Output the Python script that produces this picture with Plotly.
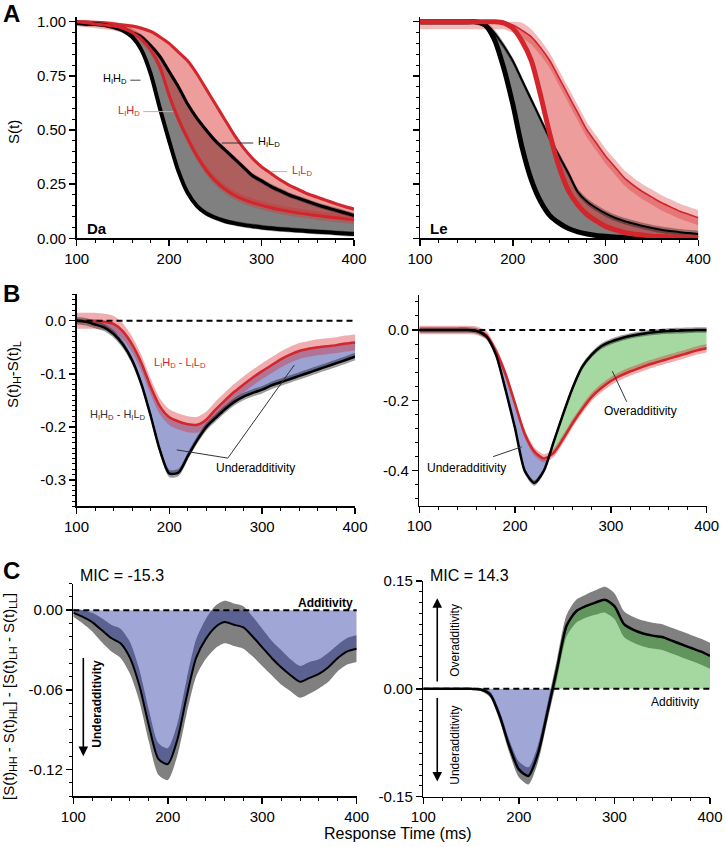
import numpy as np
import plotly.graph_objects as go

FONT = "Liberation Sans, Arial, sans-serif"

# ---------------- data ----------------
rt = [100, 110, 120, 130, 140, 150, 160, 170, 180, 190, 200, 210, 220, 230, 240, 250,
      260, 270, 280, 290, 300, 310, 320, 330, 340, 350, 360, 370, 380, 390, 400]

# Panel A, participant Da : survivor functions S(t)
da_HH = [0.995, 0.99, 0.99, 0.985, 0.975, 0.96, 0.93, 0.87, 0.76, 0.60, 0.45, 0.31, 0.21, 0.15, 0.115, 0.095,
         0.08, 0.07, 0.062, 0.056, 0.05, 0.046, 0.042, 0.039, 0.036, 0.033, 0.03, 0.028, 0.025, 0.022, 0.02]
da_HL = [1.0, 0.998, 0.995, 0.99, 0.98, 0.97, 0.95, 0.93, 0.89, 0.84, 0.77, 0.70, 0.62, 0.555, 0.50, 0.45,
         0.41, 0.37, 0.33, 0.29, 0.265, 0.24, 0.22, 0.20, 0.185, 0.17, 0.155, 0.142, 0.13, 0.118, 0.105]
da_LH = [1.0, 0.995, 0.99, 0.985, 0.98, 0.97, 0.95, 0.92, 0.87, 0.79, 0.66, 0.55, 0.46, 0.38, 0.315, 0.265,
         0.228, 0.20, 0.18, 0.165, 0.152, 0.141, 0.132, 0.124, 0.117, 0.111, 0.105, 0.10, 0.095, 0.09, 0.086]
da_LL = [1.0, 1.0, 0.998, 0.995, 0.99, 0.985, 0.98, 0.97, 0.955, 0.93, 0.90, 0.86, 0.82, 0.76, 0.69, 0.62,
         0.55, 0.48, 0.42, 0.37, 0.33, 0.30, 0.27, 0.245, 0.225, 0.205, 0.19, 0.175, 0.16, 0.147, 0.135]

# Panel A, participant Le
le_HH = [1.0, 1.0, 1.0, 1.0, 1.0, 1.0, 1.0, 0.985, 0.92, 0.79, 0.62, 0.42, 0.27, 0.17, 0.105, 0.07,
         0.045, 0.03, 0.02, 0.013, 0.009, 0.006, 0.004, 0.003, 0.002, 0.002, 0.001, 0.001, 0.001, 0.0, 0.0]
le_HL = [1.0, 1.0, 1.0, 1.0, 1.0, 1.0, 1.0, 0.99, 0.95, 0.89, 0.82, 0.73, 0.64, 0.55, 0.46, 0.38,
         0.30, 0.215, 0.17, 0.14, 0.115, 0.095, 0.08, 0.068, 0.057, 0.048, 0.04, 0.034, 0.028, 0.024, 0.02]
le_LH = [1.0, 1.0, 1.0, 1.0, 1.0, 1.0, 1.0, 1.0, 1.0, 0.995, 0.97, 0.91, 0.82, 0.66, 0.48, 0.33,
         0.22, 0.155, 0.11, 0.08, 0.055, 0.04, 0.027, 0.02, 0.015, 0.01, 0.008, 0.006, 0.005, 0.004, 0.004]
le_LL = [1.0, 1.0, 1.0, 1.0, 1.0, 1.0, 1.0, 1.0, 1.0, 1.0, 0.985, 0.96, 0.93, 0.88, 0.82, 0.74,
         0.66, 0.58, 0.50, 0.44, 0.38, 0.33, 0.28, 0.245, 0.215, 0.19, 0.165, 0.145, 0.125, 0.11, 0.095]

# CI half widths of the survivor curves
ci_A = {"da_HH": 0.012, "da_HL": 0.012, "da_LH": 0.02, "da_LL": 0.008,
        "le_HH": 0.006, "le_HL": 0.015, "le_LH": 0.006, "le_LL": 0.035}

# Panel B : S(t)_H - S(t)_L
bda_H = [0.0, -0.002, -0.007, -0.013, -0.025, -0.045, -0.075, -0.12, -0.18, -0.245, -0.288, -0.286, -0.255,
         -0.225, -0.20, -0.183, -0.167, -0.153, -0.143, -0.136, -0.13, -0.122, -0.116, -0.11, -0.104, -0.098,
         -0.092, -0.086, -0.08, -0.074, -0.068]
bda_L = [0.0, 0.0, 0.0, -0.002, -0.006, -0.02, -0.045, -0.08, -0.125, -0.162, -0.182, -0.19, -0.195,
         -0.196, -0.186, -0.167, -0.15, -0.134, -0.12, -0.107, -0.095, -0.084, -0.073, -0.064, -0.057, -0.053,
         -0.05, -0.048, -0.046, -0.043, -0.041]
ble_H = [0.0, 0.0, 0.0, 0.0, 0.0, 0.0, -0.003, -0.018, -0.07, -0.17, -0.28, -0.40, -0.435, -0.40, -0.32,
         -0.24, -0.165, -0.105, -0.07, -0.046, -0.033, -0.024, -0.017, -0.012, -0.008, -0.005, -0.003,
         -0.002, -0.001, 0.0, 0.0]
ble_L = [0.0, 0.0, 0.0, 0.0, 0.0, 0.0, -0.002, -0.015, -0.06, -0.125, -0.21, -0.295, -0.345, -0.365, -0.35,
         -0.31, -0.265, -0.225, -0.19, -0.165, -0.145, -0.13, -0.118, -0.108, -0.098, -0.09, -0.082,
         -0.074, -0.066, -0.058, -0.052]
ci_B = {"da_H": 0.007, "da_L": 0.015, "le_H": 0.008, "le_L": 0.012}

# Panel C : survivor interaction contrast
c_da = [-0.002, -0.005, -0.009, -0.015, -0.021, -0.025, -0.036, -0.057, -0.087, -0.112, -0.116, -0.098,
        -0.065, -0.036, -0.022, -0.013, -0.009, -0.011, -0.013, -0.02, -0.028, -0.036, -0.043, -0.049,
        -0.054, -0.051, -0.048, -0.043, -0.036, -0.031, -0.029]
c_da_ci = [0.003, 0.005, 0.007, 0.009, 0.01, 0.011, 0.012, 0.012, 0.012, 0.012, 0.012, 0.012, 0.013, 0.014,
           0.015, 0.016, 0.016, 0.016, 0.016, 0.015, 0.014, 0.013, 0.013, 0.012, 0.012, 0.012, 0.011,
           0.011, 0.01, 0.01, 0.01]
c_le = [0.0, 0.0, 0.0, 0.0, 0.0, 0.0, -0.001, -0.008, -0.038, -0.08, -0.112, -0.121, -0.09, -0.032, 0.028,
        0.088, 0.108, 0.115, 0.12, 0.124, 0.115, 0.09, 0.082, 0.077, 0.074, 0.072, 0.067, 0.062, 0.057,
        0.052, 0.046]
c_le_ci = [0.001, 0.001, 0.001, 0.001, 0.001, 0.001, 0.002, 0.004, 0.007, 0.009, 0.011, 0.012, 0.012, 0.012,
           0.014, 0.015, 0.016, 0.016, 0.017, 0.018, 0.018, 0.018, 0.018, 0.018, 0.018, 0.018, 0.018,
           0.018, 0.018, 0.018, 0.018]
mic_da = -15.3
mic_le = 14.3

# ---------------- helpers ----------------
RED = "#d2262c"
fig = go.Figure()
SM = 0.7


def line(ax, t, y, color, width):
    fig.add_trace(go.Scatter(x=t, y=y, mode="lines", xaxis="x" + ax, yaxis="y" + ax,
                             line=dict(color=color, width=width, shape="spline", smoothing=SM),
                             hoverinfo="skip", showlegend=False))


def fill(ax, t, lo, hi, color):
    fig.add_trace(go.Scatter(x=t, y=lo, mode="lines", xaxis="x" + ax, yaxis="y" + ax,
                             line=dict(width=0, shape="spline", smoothing=SM),
                             hoverinfo="skip", showlegend=False))
    fig.add_trace(go.Scatter(x=t, y=hi, mode="lines", xaxis="x" + ax, yaxis="y" + ax, fill="tonexty",
                             fillcolor=color, line=dict(width=0, shape="spline", smoothing=SM),
                             hoverinfo="skip", showlegend=False))


def crossings(t, a, b):
    t = np.asarray(t, float); a = np.asarray(a, float); b = np.asarray(b, float)
    tt, aa, bb = [t[0]], [a[0]], [b[0]]
    for i in range(1, len(t)):
        d0, d1 = a[i - 1] - b[i - 1], a[i] - b[i]
        if d0 * d1 < 0:
            f = d0 / (d0 - d1)
            tc = t[i - 1] + f * (t[i] - t[i - 1])
            v = a[i - 1] + f * (a[i] - a[i - 1])
            tt.append(tc); aa.append(v); bb.append(v)
        tt.append(t[i]); aa.append(a[i]); bb.append(b[i])
    return np.array(tt), np.array(aa), np.array(bb)


t = np.array(rt, float)

# ---------------- Panel A ----------------
GREY = "#808080"
PINK = "rgba(222,60,60,0.5)"
BK_BAND = "rgba(0,0,0,0.32)"
RD_BAND = "rgba(214,40,44,0.32)"

for ax, pre, HH, HL, LH, LL, widths in [
        ("", "da", da_HH, da_HL, da_LH, da_LL, (4, 3, 3, 3)),
        ("2", "le", le_HH, le_HL, le_LH, le_LL, (5, 2, 5, 1.6))]:
    HH, HL, LH, LL = map(np.array, (HH, HL, LH, LL))
    fill(ax, t, HH, HL, GREY)
    fill(ax, t, LH, LL, PINK)
    for key, arr, col in [("HH", HH, BK_BAND), ("HL", HL, BK_BAND), ("LH", LH, RD_BAND), ("LL", LL, RD_BAND)]:
        c = ci_A[pre + "_" + key]
        fill(ax, t, np.clip(arr - c, 0, 1), np.clip(arr + c, 0, 1.0), col)
    line(ax, t, HL, "black", widths[1])
    line(ax, t, LL, RED, widths[3])
    line(ax, t, HH, "black", widths[0])
    line(ax, t, LH, RED, widths[2])

# ---------------- Panel B ----------------
BLUE = "#9ca3d3"
GREEN = "#a6d9a2"
for ax, pre, H, L in [("3", "da", bda_H, bda_L), ("4", "le", ble_H, ble_L)]:
    tt, hh, ll = crossings(t, H, L)
    fill(ax, tt, np.minimum(hh, ll), ll, BLUE)
    fill(ax, tt, ll, np.maximum(hh, ll), GREEN)
    H, L = np.array(H), np.array(L)
    fill(ax, t, L - ci_B[pre + "_L"], L + ci_B[pre + "_L"], "rgba(214,40,44,0.38)")
    fill(ax, t, H - ci_B[pre + "_H"], H + ci_B[pre + "_H"], "rgba(0,0,0,0.38)")
    line(ax, t, L, RED, 2.5)
    line(ax, t, H, "black", 2.5)

# ---------------- Panel C ----------------
for ax, C, CI in [("5", c_da, c_da_ci), ("6", c_le, c_le_ci)]:
    C, CI = np.array(C), np.array(CI)
    fill(ax, t, C - CI, C + CI, GREY)
    tt, cc, zz = crossings(t, C, np.zeros_like(C))
    fill(ax, tt, zz, np.minimum(cc, 0), "rgba(48,61,166,0.46)")
    fill(ax, tt, zz, np.maximum(cc, 0), "rgba(64,170,53,0.47)")
    line(ax, t, C, "black", 2.5 if ax == "6" else 2)

# ---------------- axes ----------------
W, H_ = 726, 847


def dx(a, b):
    return [a / W, b / W]


def dy(top, bottom):
    return [1 - bottom / H_, 1 - top / H_]


TF = dict(family=FONT, size=15, color="black")


def xaxis(domain, anchor):
    return dict(domain=domain, anchor=anchor, range=[100, 400], tickvals=[100, 200, 300, 400],
                ticktext=["100", "200", "300", "400"], showline=True, linecolor="black", linewidth=1.5,
                ticks="outside", ticklen=6, tickwidth=1.5, tickcolor="black", showgrid=False,
                zeroline=False, tickfont=TF, fixedrange=True, automargin=False,
                minor=dict(tickmode="linear", tick0=100, dtick=20, ticks="outside", ticklen=3,
                           tickwidth=1, tickcolor="black", showgrid=False))


def fmt(v, d):
    return f"{v:.{d}f}"


def yaxis(domain, anchor, rng, vals, dec, minor, labels=True):
    return dict(domain=domain, anchor=anchor, range=rng, tickvals=vals,
                ticktext=[fmt(v, dec) for v in vals], showticklabels=labels, showline=True,
                linecolor="black", linewidth=1.5, ticks="outside", ticklen=6, tickwidth=1.5,
                tickcolor="black", showgrid=False, zeroline=False, tickfont=TF, fixedrange=True,
                automargin=False,
                minor=dict(tickmode="linear", tick0=0, dtick=minor, ticks="outside", ticklen=3,
                           tickwidth=1, tickcolor="black", showgrid=False))


A_vals = [0.0, 0.25, 0.5, 0.75, 1.0]
layout = dict(
    width=W, height=H_, autosize=False, margin=dict(l=0, r=0, t=0, b=0, pad=0),
    paper_bgcolor="white", plot_bgcolor="white", showlegend=False,
    font=dict(family=FONT, color="black"),
    xaxis=xaxis(dx(76.7, 354), "y"),
    yaxis=yaxis(dy(17.4, 238.3), "x", [0, 1.02], A_vals, 2, 0.05),
    xaxis2=xaxis(dx(420, 698.3), "y2"),
    yaxis2=yaxis(dy(17.4, 238.3), "x2", [0, 1.02], A_vals, 2, 0.05, labels=False),
    xaxis3=xaxis(dx(76.5, 355), "y3"),
    yaxis3=yaxis(dy(294.2, 506.4), "x3", [-0.35, 0.05], [0.0, -0.1, -0.2, -0.3], 1, 0.01),
    xaxis4=xaxis(dx(419.3, 706.7), "y4"),
    yaxis4=yaxis(dy(294.8, 505.9), "x4", [-0.5, 0.1], [0.0, -0.2, -0.4], 1, 0.04),
    xaxis5=xaxis(dx(73.3, 356.7), "y5"),
    yaxis5=yaxis(dy(583.6, 796.0), "x5", [-0.14, 0.02], [0.0, -0.06, -0.12], 2, 0.01),
    xaxis6=xaxis(dx(423.3, 710), "y6"),
    yaxis6=yaxis(dy(581, 796.7), "x6", [-0.15, 0.15], [0.15, 0.0, -0.15], 2, 0.015),
)

ann = []
shapes = []


def text(x, y, s, ax="", size=12, color="black", xanchor="center", yanchor="middle", angle=0, bold=False,
         ref="data"):
    if bold:
        s = "<b>" + s + "</b>"
    d = dict(text=s, x=x, y=y, showarrow=False, xanchor=xanchor, yanchor=yanchor, textangle=angle,
             font=dict(family=FONT, size=size, color=color))
    if ref == "paper":
        d.update(xref="paper", yref="paper")
    else:
        d.update(xref="x" + ax, yref="y" + ax)
    ann.append(d)


def seg(ax, x0, y0, x1, y1, color="#333333", width=1):
    shapes.append(dict(type="line", xref="x" + ax, yref="y" + ax, x0=x0, y0=y0, x1=x1, y1=y1,
                       line=dict(color=color, width=width)))


def arrow(ax, x, y_tail, y_head):
    ann.append(dict(x=x, y=y_head, ax=x, ay=y_tail, xref="x" + ax, yref="y" + ax, axref="x" + ax,
                    ayref="y" + ax, text="", showarrow=True, arrowhead=2, arrowsize=1.2, arrowwidth=1.6,
                    arrowcolor="black"))


# panel letters
text(11 / W, 1 - 14 / H_, "A", size=24, bold=True, ref="paper")
text(11 / W, 1 - 293 / H_, "B", size=24, bold=True, ref="paper")
text(11 / W, 1 - 570 / H_, "C", size=24, bold=True, ref="paper")

# y titles
text(13 / W, 1 - 132 / H_, "S(t)", size=15, angle=-90, ref="paper")
text(13 / W, 1 - 375 / H_, "S(t)<sub>H</sub>-S(t)<sub>L</sub>", size=15, angle=-90, ref="paper")
text(9 / W, 1 - 697 / H_,
     "[S(t)<sub>HH</sub> - S(t)<sub>HL</sub>] - [S(t)<sub>LH</sub> - S(t)<sub>LL</sub>]",
     size=15, angle=-90, ref="paper")
# x title
text(398 / W, 1 - 833 / H_, "Response Time (ms)", size=16, ref="paper")

# Panel A labels
text(157, 0.735, "H<sub>I</sub>H<sub>D</sub>", "", 11, "black", xanchor="right")
seg("", 158, 0.73, 169, 0.73, "#444444")
text(171, 0.59, "L<sub>I</sub>H<sub>D</sub>", "", 11, RED, xanchor="right")
seg("", 172, 0.585, 204.5, 0.585, "#ee9a9a")
text(294, 0.445, "H<sub>I</sub>L<sub>D</sub>", "", 11, "black", xanchor="left")
seg("", 257, 0.44, 291, 0.44, "#333333")
text(331, 0.312, "L<sub>I</sub>L<sub>D</sub>", "", 11, RED, xanchor="left")
seg("", 309.5, 0.308, 327.5, 0.308, "#ee9a9a")
text(109, 0.045, "Da", "", 15, bold=True, xanchor="left")
text(109, 0.045, "Le", "2", 15, bold=True, xanchor="left")

# Panel B labels
text(211, -0.08, "L<sub>I</sub>H<sub>D</sub> - L<sub>I</sub>L<sub>D</sub>", "3", 11, RED)
text(145, -0.178, "H<sub>I</sub>H<sub>D</sub> - H<sub>I</sub>L<sub>D</sub>", "3", 11, "#333333")
text(292.5, -0.277, "Underadditivity", "3", 12)
seg("3", 263, -0.259, 208, -0.2435)
seg("3", 263, -0.259, 334.6, -0.0835)
text(149.4, -0.391, "Underadditivity", "4", 12)
seg("4", 177, -0.36, 207, -0.332)
text(331, -0.23, "Overadditivity", "4", 12)
seg("4", 316.5, -0.204, 301.5, -0.117)

# Panel C labels
text(78 / W, 1 - 575 / H_, f"MIC = {mic_da}", size=16, xanchor="left", ref="paper")
text(428 / W, 1 - 575 / H_, f"MIC = {mic_le}", size=16, xanchor="left", ref="paper")
text(398, 0.0055, "Additivity", "5", 12, bold=True, xanchor="right")
arrow("5", 110.6, -0.035, -0.11)
text(124.7, -0.0707, "Underadditivity", "5", 12, bold=True, angle=-90)
text(391, -0.0176, "Additivity", "6", 12, xanchor="right")
arrow("6", 114.6, 0.008, 0.126)
arrow("6", 114.6, -0.0106, -0.129)
text(133, 0.068, "Overadditivity", "6", 12, angle=-90)
text(133, -0.078, "Underadditivity", "6", 12, angle=-90)

# dashed zero lines
for ax in ["3", "4", "5", "6"]:
    shapes.append(dict(type="line", xref="x" + ax + " domain", yref="y" + ax, x0=0, x1=1, y0=0, y1=0,
                       line=dict(color="black", width=2, dash="6px,4px")))

layout["annotations"] = ann
layout["shapes"] = shapes
fig.update_layout(**layout)
fig.write_html("out.html", config={"displayModeBar": False, "staticPlot": True},
               post_script="document.body.style.margin='0';document.body.style.overflow='hidden';")
